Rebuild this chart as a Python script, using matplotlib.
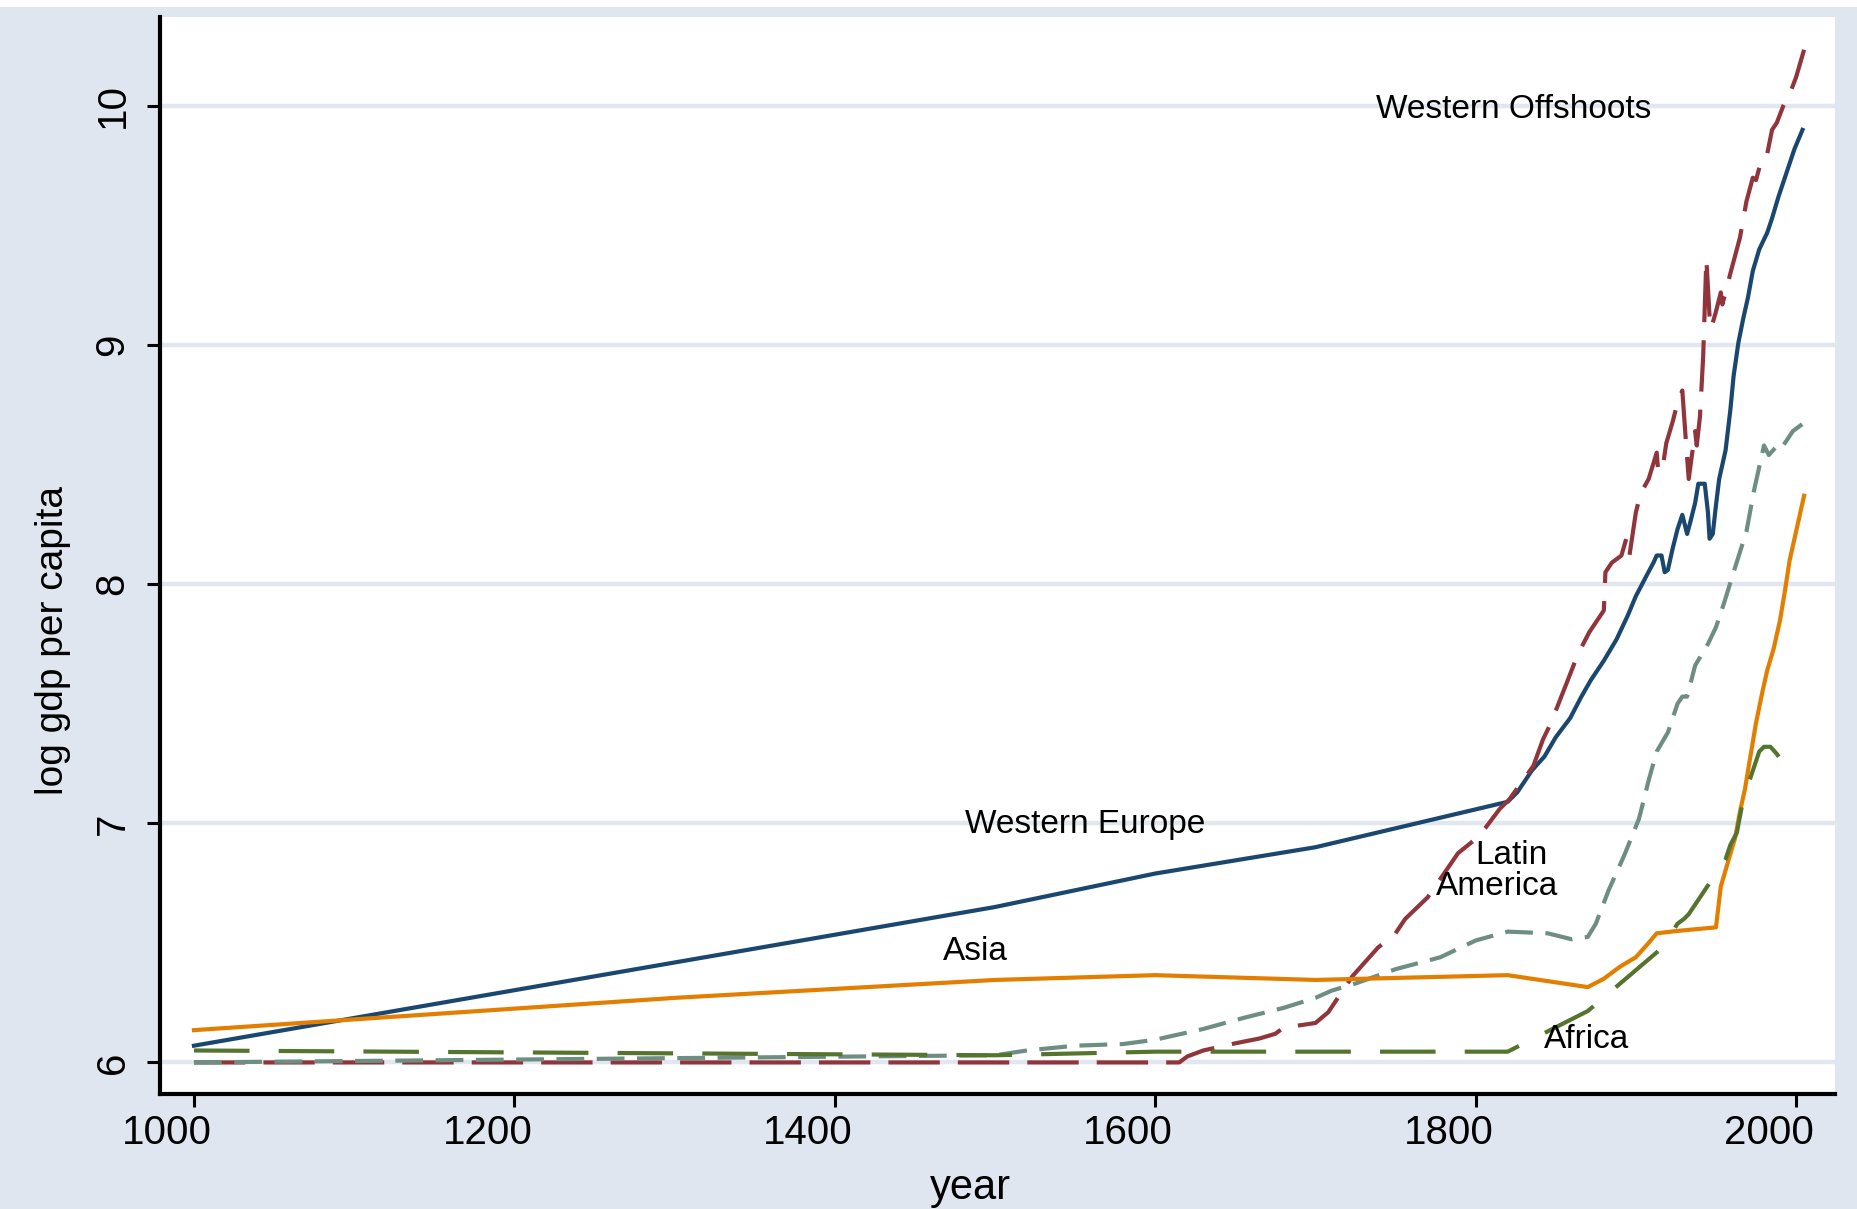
import matplotlib
matplotlib.use("Agg")
import matplotlib.pyplot as plt
from matplotlib.transforms import ScaledTranslation
from matplotlib.patches import Rectangle

plt.rcParams['font.family'] = ['Liberation Sans', 'DejaVu Sans']
plt.rcParams['lines.scale_dashes'] = False

# ---------------- data (log gdp per capita) ----------------
we_years = [1000, 1500, 1600, 1700, 1820, 1826, 1835, 1843, 1850, 1859, 1866, 1872, 1880,
            1888, 1895, 1900, 1907, 1911, 1913, 1916, 1918, 1920, 1923, 1926, 1929, 1932,
            1934, 1937, 1939, 1943, 1945, 1946, 1948, 1950, 1952, 1956, 1959, 1961, 1964,
            1967, 1970, 1973, 1977, 1982, 1985, 1989, 1994, 1999, 2004]
we_vals = [6.07, 6.65, 6.79, 6.90, 7.09, 7.13, 7.22, 7.28, 7.36, 7.44, 7.53, 7.60, 7.68,
           7.77, 7.87, 7.95, 8.04, 8.09, 8.12, 8.12, 8.05, 8.06, 8.15, 8.23, 8.29, 8.21,
           8.26, 8.34, 8.42, 8.42, 8.30, 8.19, 8.21, 8.33, 8.44, 8.56, 8.73, 8.87, 9.01,
           9.11, 9.20, 9.31, 9.40, 9.47, 9.53, 9.62, 9.72, 9.82, 9.90]

wo_years = [1000, 1615, 1620, 1630, 1650, 1665, 1675, 1680, 1700, 1708, 1712, 1723, 1739,
            1750, 1756, 1770, 1789, 1801, 1806, 1815, 1821, 1836, 1842, 1847, 1857, 1864,
            1871, 1880, 1881, 1885, 1891, 1894, 1896, 1900, 1903, 1908, 1913, 1914, 1917,
            1919, 1923, 1926, 1929, 1931, 1933, 1937, 1938, 1940, 1942, 1944, 1946, 1947,
            1950, 1953, 1954, 1959, 1965, 1969, 1973, 1975, 1979, 1982, 1985, 1988, 1992,
            1996, 2000, 2005]
wo_vals = [6.00, 6.00, 6.025, 6.05, 6.08, 6.10, 6.12, 6.145, 6.165, 6.21, 6.25, 6.36, 6.48,
           6.54, 6.60, 6.69, 6.875, 6.94, 6.98, 7.06, 7.10, 7.24, 7.35, 7.42, 7.59, 7.71,
           7.80, 7.89, 8.05, 8.09, 8.12, 8.19, 8.12, 8.30, 8.38, 8.44, 8.55, 8.47, 8.50,
           8.59, 8.68, 8.76, 8.81, 8.62, 8.44, 8.64, 8.58, 8.70, 8.95, 9.36, 9.12, 9.07,
           9.14, 9.22, 9.17, 9.30, 9.45, 9.60, 9.70, 9.69, 9.79, 9.80, 9.90, 9.93, 10.00,
           10.05, 10.12, 10.235]

la_years = [1000, 1500, 1520, 1550, 1580, 1600, 1630, 1655, 1680, 1700, 1710, 1725, 1750,
            1778, 1800, 1820, 1845, 1860, 1870, 1875, 1883, 1893, 1902, 1908, 1913, 1920,
            1926, 1929, 1932, 1937, 1945, 1950, 1955, 1961, 1969, 1974, 1980, 1983, 1987,
            1990, 1998, 2005]
la_vals = [6.00, 6.03, 6.05, 6.07, 6.077, 6.095, 6.14, 6.186, 6.228, 6.27, 6.30, 6.33, 6.39,
           6.44, 6.51, 6.547, 6.54, 6.515, 6.525, 6.58, 6.72, 6.87, 7.02, 7.18, 7.30, 7.38,
           7.50, 7.53, 7.53, 7.66, 7.75, 7.82, 7.92, 8.05, 8.22, 8.40, 8.58, 8.54, 8.57,
           8.56, 8.64, 8.675]

asia_years = [1000, 1300, 1500, 1600, 1700, 1820, 1870, 1880, 1890, 1900, 1908, 1913, 1926,
              1950, 1953, 1958, 1962, 1965, 1968, 1972, 1975, 1979, 1982, 1986, 1990, 1993,
              1996, 2000, 2005]
asia_vals = [6.135, 6.27, 6.345, 6.365, 6.345, 6.365, 6.315, 6.35, 6.40, 6.44, 6.50, 6.54,
             6.55, 6.565, 6.735, 6.85, 6.94, 7.05, 7.14, 7.30, 7.42, 7.55, 7.64, 7.73, 7.85,
             7.97, 8.10, 8.22, 8.37]

af_years = [1000, 1500, 1600, 1700, 1820, 1870, 1913, 1916, 1926, 1930, 1933, 1936, 1940,
            1950, 1956, 1959, 1963, 1967, 1973, 1977, 1980, 1984, 1988, 1992, 1998]
af_vals = [6.05, 6.03, 6.045, 6.045, 6.045, 6.215, 6.46, 6.48, 6.58, 6.60, 6.62, 6.65, 6.69,
           6.79, 6.85, 6.91, 6.96, 7.10, 7.22, 7.30, 7.32, 7.32, 7.29, 7.25, 7.21]

x_ticks = [1000, 1200, 1400, 1600, 1800, 2000]
y_ticks = [6, 7, 8, 9, 10]

# ---------------- figure ----------------
W, H = 1857, 1209
fig = plt.figure(figsize=(W / 100, H / 100), dpi=100)
fig.patch.set_facecolor('#e0e6ef')
fig.patches.append(Rectangle((0, 1 - 7 / H), 1, 7 / H, transform=fig.transFigure,
                             facecolor='white', edgecolor='none', zorder=0))

ax = fig.add_axes([160 / W, 1 - 1094 / H, 1675 / W, 1077 / H])
ax.set_facecolor('white')
ax.set_xlim(978.8, 2024.3)
ax.set_ylim(5.868, 10.372)

for v in y_ticks:
    ax.axhline(v, color='#e2e7ef', lw=3.2, zorder=1)

navy, maroon, teal, orange, green = '#1a476f', '#90353b', '#6e8e84', '#e37e00', '#55752f'
lw = 3.0
ax.plot(we_years, we_vals, color=navy, lw=lw, zorder=3)
ax.plot(wo_years, wo_vals, color=maroon, lw=lw, dashes=(37, 13), zorder=3)
ax.plot(la_years, la_vals, color=teal, lw=lw, dashes=(20, 9), zorder=4)
ax.plot(asia_years, asia_vals, color=orange, lw=lw, zorder=4)
ax.plot(af_years, af_vals, color=green, lw=lw, dashes=(40, 21), zorder=5)

fs_ann = 24
ax.text(1824, 9.987, 'Western Offshoots', fontsize=fs_ann, ha='center', va='center', zorder=6)
ax.text(1556, 6.997, 'Western Europe', fontsize=fs_ann, ha='center', va='center', zorder=6)
ax.text(1822.5, 6.867, 'Latin', fontsize=fs_ann, ha='center', va='center', zorder=6)
ax.text(1813.5, 6.734, 'America', fontsize=fs_ann, ha='center', va='center', zorder=6)
ax.text(1488, 6.463, 'Asia', fontsize=fs_ann, ha='center', va='center', zorder=6)
ax.text(1869, 6.094, 'Africa', fontsize=fs_ann, ha='center', va='center', zorder=6)

for s in ['top', 'right']:
    ax.spines[s].set_visible(False)
for s in ['left', 'bottom']:
    ax.spines[s].set_linewidth(3.0)
    ax.spines[s].set_color('black')

ax.set_xticks(x_ticks)
ax.set_yticks(y_ticks)
ax.set_xticklabels([str(t) for t in x_ticks])
ax.set_yticklabels([str(t) for t in y_ticks])
ax.tick_params(axis='both', direction='out', length=9.5, width=2.2, colors='black',
               labelsize=29)
ax.tick_params(axis='x', pad=5)
ax.tick_params(axis='y', pad=11)
for lbl in ax.get_yticklabels():
    lbl.set_rotation(90)
    lbl.set_va('center')
off = ScaledTranslation(-0.27, 0, fig.dpi_scale_trans)
for lbl in ax.get_xticklabels():
    lbl.set_transform(lbl.get_transform() + off)

ax.set_xlabel('year', fontsize=30)
ax.xaxis.set_label_coords(0.4836, -0.0873)
ax.xaxis.label.set_va('center')
ax.set_ylabel('log gdp per capita', fontsize=28)
ax.yaxis.set_label_coords(-0.064, 0.4215)
ax.yaxis.label.set_va('center')

fig.savefig('out.png', dpi=100, facecolor=fig.get_facecolor())
